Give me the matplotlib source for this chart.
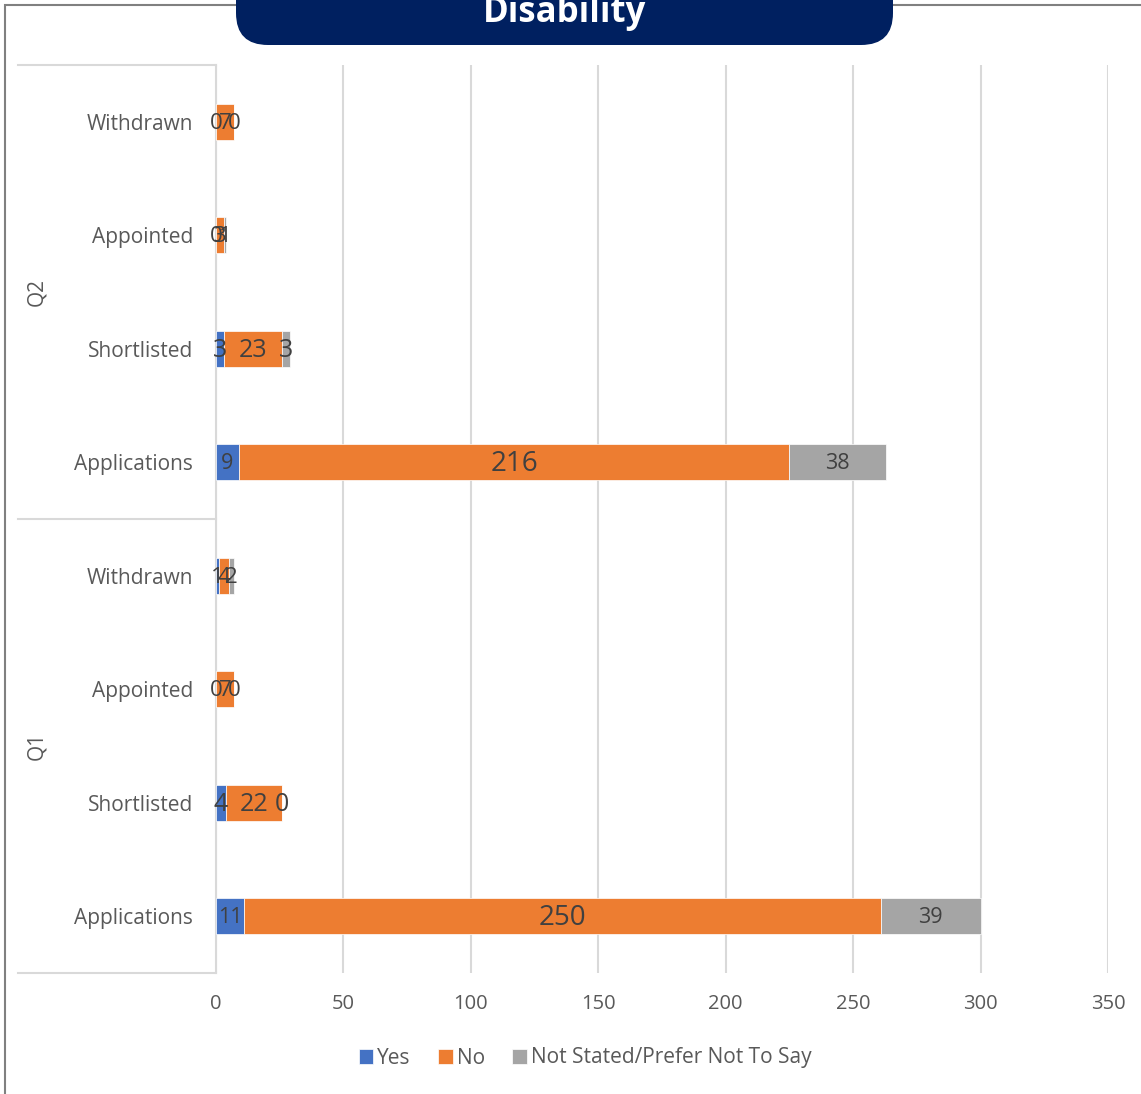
import matplotlib.pyplot as plt
from matplotlib.patches import FancyBboxPatch, Rectangle
import numpy as np

plt.rcParams['font.family'] = ['Open Sans', 'DejaVu Sans']

# categories bottom to top
stages = ['Applications', 'Shortlisted', 'Appointed', 'Withdrawn']
quarters = ['Q1', 'Q2']
yes = [11, 4, 0, 1, 9, 3, 0, 0]
no = [250, 22, 7, 4, 216, 23, 3, 7]
not_stated = [39, 0, 0, 2, 38, 3, 1, 0]
series_names = ['Yes', 'No', 'Not Stated/Prefer Not To Say']
colors = ['#4472C4', '#ED7D31', '#A5A5A5']
x_ticks = [0, 50, 100, 150, 200, 250, 300, 350]

W, H = 1141, 1094
fig = plt.figure(figsize=(W / 100, H / 100), dpi=100)

def fx(x):
    return x / W

def fy(y):
    return 1 - y / H

# outer frame
fig.patches.append(Rectangle((fx(5), fy(1200)), 2, fy(5) - fy(1200), transform=fig.transFigure,
                             fill=False, edgecolor='#808080', linewidth=1.5))

ax = fig.add_axes([fx(216), fy(973), fx(1108) - fx(216), fy(65) - fy(973)])

labels = [s for q in quarters for s in stages]
ypos = np.arange(len(labels))
values = [yes, no, not_stated]
left = np.zeros(len(labels))
for vals, name, col in zip(values, series_names, colors):
    ax.barh(ypos, vals, left=left, height=0.32, color=col, label=name,
            edgecolor='white', linewidth=0.5, zorder=3)
    for i, v in enumerate(vals):
        stage = labels[i]
        if stage == 'Shortlisted':
            fs = 18
        elif stage == 'Applications':
            fs = 20 if name == 'No' else 15.5
        else:
            fs = 16
        ax.text(left[i] + v / 2, ypos[i] - 0.012, str(v), ha='center', va='center',
                fontsize=fs, color='#404040', zorder=4)
    left += np.array(vals)

ax.set_xlim(0, 350)
ax.set_ylim(-0.5, len(labels) - 0.5)
ax.set_xticks(x_ticks)
ax.set_yticks(ypos)
ax.set_yticklabels(labels)
ax.tick_params(axis='y', length=0, pad=16.5, labelsize=15, labelcolor='#595959')
ax.tick_params(axis='x', length=0, pad=15, labelsize=14.5, labelcolor='#595959')
ax.grid(axis='x', color='#D9D9D9', linewidth=1.5, zorder=0)
for s in ['top', 'right', 'bottom']:
    ax.spines[s].set_visible(False)
ax.spines['left'].set_color('#D9D9D9')
ax.spines['left'].set_linewidth(1.5)

# group separators and labels
xl = (18 - 216) / (1108 - 216)
trans = ax.get_yaxis_transform()
for yb in [-0.5, 3.5, 7.5]:
    ax.plot([xl, 0], [yb, yb], transform=trans, color='#D9D9D9', linewidth=1.5, clip_on=False)
for qi, q in enumerate(quarters):
    ax.text((37 - 216) / (1108 - 216), qi * 4 + 1.5, q, transform=trans, rotation=90,
            ha='center', va='center', fontsize=15, color='#595959')

ax.legend(loc='center', bbox_to_anchor=(fx(585), fy(1058)), bbox_transform=fig.transFigure,
          ncol=3, frameon=False, fontsize=15, handlelength=0.7, handleheight=0.7,
          handletextpad=0.2, columnspacing=1.3, labelcolor='#595959')

# title pill
fig.patches.append(FancyBboxPatch((fx(236), fy(45)), fx(893) - fx(236), fy(-40) - fy(45),
                                  boxstyle='round,pad=0,rounding_size=0.028',
                                  transform=fig.transFigure, facecolor='#002060',
                                  edgecolor='none', mutation_aspect=W / H))
fig.text(fx(565), fy(13), 'Disability', ha='center', va='center', color='white',
         fontsize=25, fontweight='bold')

fig.savefig('out.png', dpi=100)
